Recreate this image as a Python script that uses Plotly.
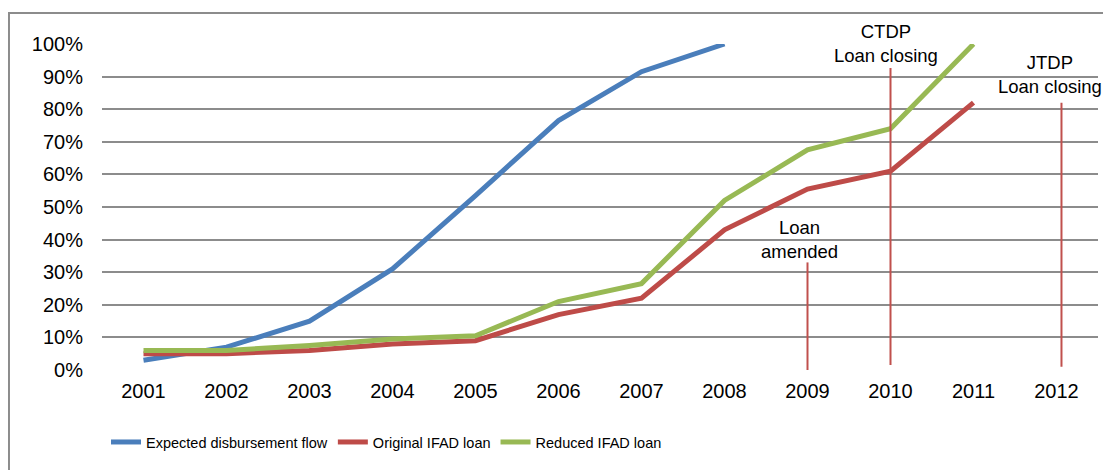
import plotly.graph_objects as go

years = [2001, 2002, 2003, 2004, 2005, 2006, 2007, 2008, 2009, 2010, 2011, 2012]
expected = [0.03, 0.07, 0.15, 0.31, 0.535, 0.765, 0.915, 1.00]
original = [0.05, 0.05, 0.06, 0.08, 0.09, 0.17, 0.22, 0.43, 0.555, 0.61, 0.82]
reduced = [0.06, 0.06, 0.075, 0.095, 0.105, 0.21, 0.265, 0.52, 0.675, 0.74, 1.00]

series_names = ["Expected disbursement flow", "Original IFAD loan", "Reduced IFAD loan"]
series_colors = ["#4A7EBB", "#BE4B48", "#98B954"]

# event markers (vertical lines): x position, bottom, top
event_x = [2009, 2010, 2012.06]
event_bottom = [0.0, 0.015, 0.01]
event_top = [0.33, 0.926, 0.82]
event_labels = ["Loan<br>amended", "CTDP<br>Loan closing", "JTDP<br>Loan closing"]
label_x = [2008.9, 2009.95, 2011.92]
label_y = [0.40, 1.003, 0.905]

tick_vals = [i / 10 for i in range(11)]
tick_text = [f"{i * 10}%" for i in range(11)]

fig = go.Figure()
for name, vals, col in zip(series_names, [expected, original, reduced], series_colors):
    fig.add_trace(go.Scatter(
        x=years[:len(vals)], y=vals, mode="lines", name=name,
        line=dict(color=col, width=5), cliponaxis=False,
    ))

for ex, eb, et in zip(event_x, event_bottom, event_top):
    fig.add_shape(type="line", xref="x", yref="y", x0=ex, x1=ex, y0=eb, y1=et,
                  line=dict(color="#C0504D", width=2))

for lx, ly, lt in zip(label_x, label_y, event_labels):
    fig.add_annotation(x=lx, y=ly, xref="x", yref="paper", text=lt, showarrow=False,
                       font=dict(size=18.5, color="#000000", family="Liberation Sans, Arial"),
                       xanchor="center", yanchor="middle")

# outer frame
fig.add_shape(type="rect", xref="paper", yref="paper", x0=-0.0934, x1=1.2, y0=-0.6, y1=1.0951,
              line=dict(color="#8C8C8C", width=2), fillcolor="rgba(0,0,0,0)", layer="below")

fig.update_layout(
    width=1111, height=470,
    margin=dict(l=94, r=21, t=36, b=108),
    paper_bgcolor="white", plot_bgcolor="white",
    font=dict(family="Liberation Sans, Arial", size=20, color="#000000"),
    showlegend=True,
    legend=dict(orientation="h", x=0.004, xanchor="left", y=-0.221, yanchor="middle",
                font=dict(size=14.5, family="Liberation Sans, Arial"),
                itemwidth=30, tracegroupgap=0),
    xaxis=dict(range=[2000.5, 2012.5], tickmode="array", tickvals=years,
               ticktext=[str(y) for y in years], showgrid=False, zeroline=False,
               showline=False, ticks="", tickfont=dict(size=20), ticklabelstandoff=7),
    yaxis=dict(range=[0, 1], tickmode="array", tickvals=tick_vals, ticktext=tick_text,
               showgrid=True, gridcolor="#8C8C8C", gridwidth=1.5, zeroline=False,
               showline=False, ticks="", tickfont=dict(size=20), ticklabelstandoff=18),
)

fig.write_html("out.html")
